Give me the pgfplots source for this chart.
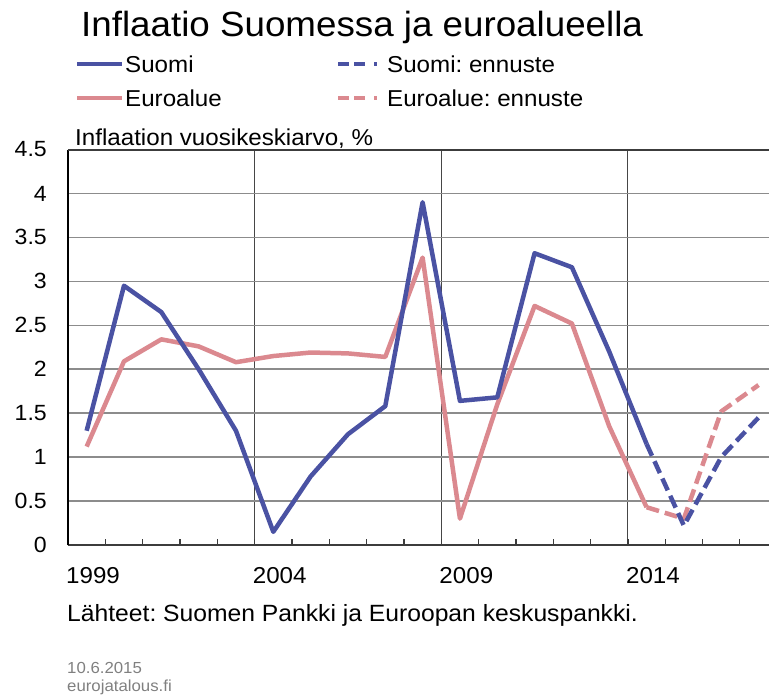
\documentclass[border=0pt]{standalone}
\usepackage{pgfplots}
\pgfplotsset{compat=1.18}
\usepackage{fontspec}
\setmainfont{Liberation Sans}[FakeStretch=1.05]
\frenchspacing
\definecolor{fiblue}{RGB}{74,82,163}
\definecolor{eupink}{RGB}{219,137,143}
\definecolor{gridgray}{RGB}{140,140,140}
\definecolor{vgrid}{RGB}{70,70,70}
\definecolor{axgray}{RGB}{60,60,60}
\definecolor{txtgray}{RGB}{128,128,128}
\pgfplotstableread{
year fi
1999 1.30
2000 2.95
2001 2.65
2002 2.00
2003 1.30
2004 0.15
2005 0.78
2006 1.26
2007 1.58
2008 3.90
2009 1.64
2010 1.68
2011 3.32
2012 3.16
2013 2.20
2014 1.15
}\fidata
\pgfplotstableread{
year fi
2014 1.15
2015 0.22
2016 1.00
2017 1.45
}\fifc
\pgfplotstableread{
year eu
1999 1.12
2000 2.09
2001 2.34
2002 2.26
2003 2.08
2004 2.15
2005 2.19
2006 2.18
2007 2.14
2008 3.27
2009 0.30
2010 1.60
2011 2.72
2012 2.52
2013 1.35
2014 0.43
}\eudata
\pgfplotstableread{
year eu
2014 0.43
2015 0.30
2016 1.52
2017 1.82
}\eufc
\begin{document}
\begin{tikzpicture}[x=1pt,y=1pt]
\useasboundingbox (0,0) rectangle (769,-697);
% title
\node[anchor=base west, inner sep=0, font=\fontsize{35}{40}\selectfont] at (81,-36) {Inflaatio Suomessa ja euroalueella};
% legend
\draw[fiblue, line width=4.5] (77,-64) -- (122,-64);
\node[anchor=base west, inner sep=0, font=\fontsize{23}{26}\selectfont] at (125,-72) {Suomi};
\draw[eupink, line width=4.5] (77,-98) -- (122,-98);
\node[anchor=base west, inner sep=0, font=\fontsize{23}{26}\selectfont] at (125,-106) {Euroalue};
\draw[fiblue, line width=4, dash pattern=on 11 off 5 on 11 off 9 on 3 off 20] (338,-64) -- (384,-64);
\node[anchor=base west, inner sep=0, font=\fontsize{23}{26}\selectfont] at (387,-72) {Suomi: ennuste};
\draw[eupink, line width=4, dash pattern=on 11 off 5 on 11 off 9 on 3 off 20] (338,-98) -- (384,-98);
\node[anchor=base west, inner sep=0, font=\fontsize{23}{26}\selectfont] at (387,-106) {Euroalue: ennuste};
% axis unit label
\node[anchor=base west, inner sep=0, font=\fontsize{23}{26}\selectfont] at (75,-145) {Inflaation vuosikeskiarvo, \%};
\begin{axis}[
  at={(68pt,-545pt)}, anchor=south west,
  scale only axis, width=701pt, height=395.5pt,
  xmin=1998.5, xmax=2017.28, ymin=0, ymax=4.5,
  axis lines=left,
  axis line style={-},
  x axis line style={draw=axgray, line width=2.5pt},
  y axis line style={draw=black, line width=2pt},
  xtick={1998.5,2003.5,2008.5,2013.5},
  xticklabels={1999,2004,2009,2014},
  minor xtick={1999.5,2000.5,2001.5,2002.5,2004.5,2005.5,2006.5,2007.5,2009.5,2010.5,2011.5,2012.5,2014.5,2015.5,2016.5},
  tick align=inside,
  major tick length=6pt, minor tick length=6pt,
  xtick style={draw=axgray, line width=1.2pt},
  minor x tick style={draw=axgray, line width=1.2pt},
  ytick={0,0.5,1,1.5,2,2.5,3,3.5,4,4.5},
  yticklabels={0,0.5,1,1.5,2,2.5,3,3.5,4,4.5},
  ytick style={draw=none},
  xmajorgrids=true, ymajorgrids=true,
  x grid style={draw=vgrid, line width=1pt},
  y grid style={draw=gridgray, line width=1.5pt},
  xticklabel style={anchor=base west, inner sep=0pt, yshift=-38pt, xshift=-2pt, font=\fontsize{23}{26}\selectfont},
  yticklabel style={anchor=east, inner sep=0pt, xshift=-21pt, font=\fontsize{22}{26}\selectfont},
  line join=round,
]
\addplot[eupink, line width=4.5pt, no marks] table[x=year, y=eu] {\eudata};
\addplot[eupink, line width=4.5pt, no marks, dash pattern=on 13pt off 6pt] table[x=year, y=eu] {\eufc};
\addplot[fiblue, line width=4.5pt, no marks] table[x=year, y=fi] {\fidata};
\addplot[fiblue, line width=4.5pt, no marks, dash pattern=on 13pt off 6pt] table[x=year, y=fi] {\fifc};
\draw[draw=axgray, line width=2.5pt] (rel axis cs:0,1) -- (rel axis cs:1,1);
\end{axis}
% sources
\node[anchor=base west, inner sep=0, font=\fontsize{23.5}{26}\selectfont] at (67,-621) {Lähteet: Suomen Pankki ja Euroopan keskuspankki.};
\node[anchor=base west, inner sep=0, font=\fontsize{16}{18}\selectfont, text=txtgray] at (67,-673) {10.6.2015};
\node[anchor=base west, inner sep=0, font=\fontsize{16}{18}\selectfont, text=txtgray] at (67,-691) {eurojatalous.fi};
\end{tikzpicture}
\end{document}
